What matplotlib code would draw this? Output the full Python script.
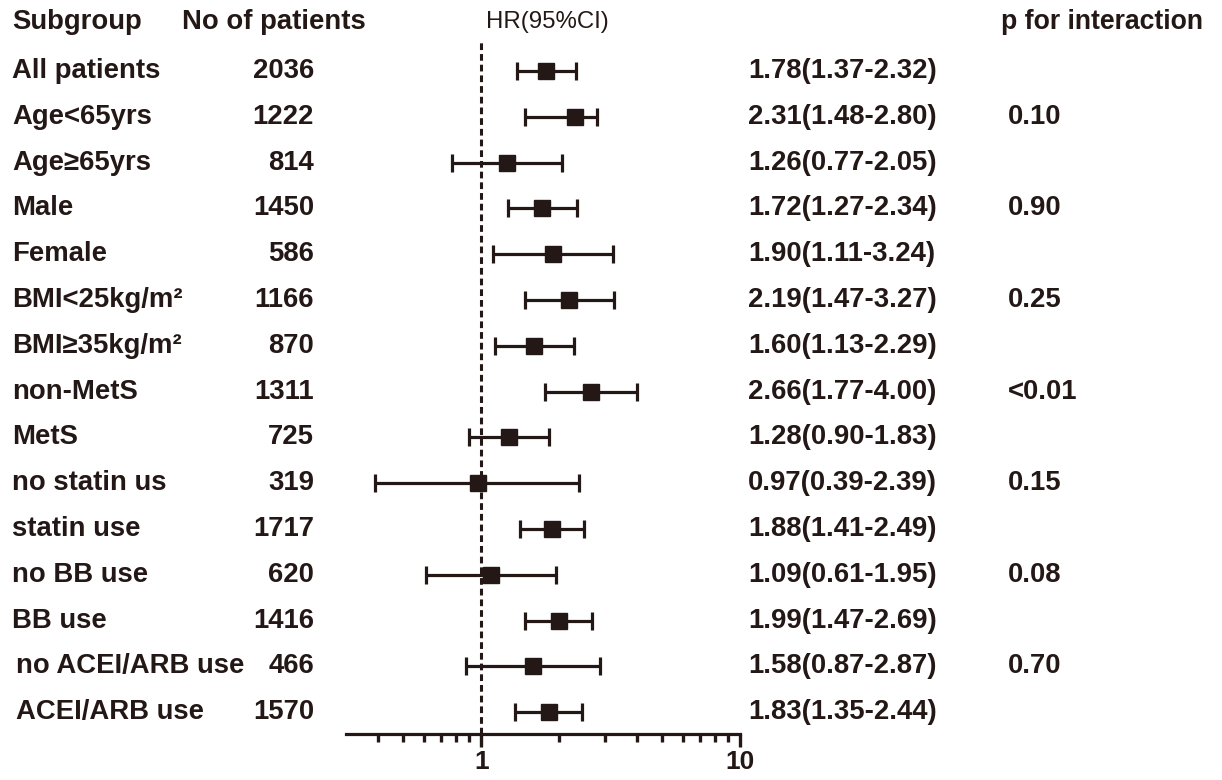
import matplotlib
matplotlib.use("Agg")
import matplotlib.pyplot as plt
from matplotlib.transforms import blended_transform_factory
import numpy as np

subgroups = ["All patients", "Age<65yrs", "Age\u226565yrs", "Male", "Female",
             "BMI<25kg/m\u00b2", "BMI\u226535kg/m\u00b2", "non-MetS", "MetS",
             "no statin us", "statin use", "no BB use", "BB use",
             "no ACEI/ARB use", "ACEI/ARB use"]
n_patients = ["2036", "1222", "814", "1450", "586", "1166", "870", "1311", "725",
              "319", "1717", "620", "1416", "466", "1570"]
hr = [1.78, 2.31, 1.26, 1.72, 1.90, 2.19, 1.60, 2.66, 1.28, 0.97, 1.88, 1.09, 1.99, 1.58, 1.83]
ci_low = [1.37, 1.48, 0.77, 1.27, 1.11, 1.47, 1.13, 1.77, 0.90, 0.39, 1.41, 0.61, 1.47, 0.87, 1.35]
ci_high = [2.32, 2.80, 2.05, 2.34, 3.24, 3.27, 2.29, 4.00, 1.83, 2.39, 2.49, 1.95, 2.69, 2.87, 2.44]
p_interaction = ["", "0.10", "", "0.90", "", "0.25", "", "<0.01", "", "0.15", "", "0.08", "", "0.70", ""]

headers = ["Subgroup", "No of patients", "HR(95%CI)", "p for interaction"]

W, H = 1222, 780
col = "#231815"
fam = ["Liberation Sans", "DejaVu Sans"]
fs = 19.8

fig = plt.figure(figsize=(W / 100, H / 100), dpi=100)
ax = fig.add_axes([346 / W, 1 - 734 / H, (740 - 346) / W, (734 - 40) / H])

rows = np.arange(len(subgroups))
x = np.array(hr)
err = np.array([x - np.array(ci_low), np.array(ci_high) - x])
ax.errorbar(x, rows, xerr=err, fmt="s", color=col, ecolor=col, markersize=11,
            elinewidth=2.3, capsize=6.5, capthick=2.3, zorder=3)
ax.axvline(1, color=col, lw=2.2, ls=(0, (2.2, 1.3)), zorder=2)

ax.set_xscale("log")
ax.set_xlim(0.3, 10)
y0 = (40 - 71) / 45.8
y1 = (734 - 71) / 45.8
ax.set_ylim(y1, y0)

for s in ["top", "right", "left"]:
    ax.spines[s].set_visible(False)
ax.spines["bottom"].set_linewidth(2.3)
ax.spines["bottom"].set_color(col)
ax.set_yticks([])
ax.set_xticks([1, 10])
ax.set_xticklabels(["1", "10"])
ax.set_xticks([0.4, 0.5, 0.6, 0.7, 0.8, 0.9, 2, 3, 4, 5, 6, 7, 8, 9], minor=True)
ax.xaxis.set_minor_formatter(matplotlib.ticker.NullFormatter())
ax.tick_params(axis="x", which="major", direction="out", length=9, width=2.4,
               color=col, pad=2.5, labelsize=19, labelcolor=col)
ax.tick_params(axis="x", which="minor", direction="out", length=5.5, width=2.4, color=col)
for lab in ax.get_xticklabels():
    lab.set_fontweight("bold")
    lab.set_family(fam)
ax.patch.set_visible(False)

tr = blended_transform_factory(fig.transFigure, ax.transData)
sub_x = [12] * len(subgroups)
sub_x[13] = 16
sub_x[14] = 16
for i in rows:
    ax.text(sub_x[i] / W, i, subgroups[i], transform=tr, ha="left", va="center",
            fontsize=fs, fontweight="bold", family=fam, color=col, clip_on=False)
    ax.text(314 / W, i, n_patients[i], transform=tr, ha="right", va="center",
            fontsize=fs, fontweight="bold", family=fam, color=col, clip_on=False)
    ax.text(748 / W, i, f"{hr[i]:.2f}({ci_low[i]:.2f}-{ci_high[i]:.2f})", transform=tr,
            ha="left", va="center", fontsize=fs, fontweight="bold", family=fam,
            color=col, clip_on=False)
    if p_interaction[i]:
        ax.text(1008 / W, i, p_interaction[i], transform=tr, ha="left", va="center",
                fontsize=fs, fontweight="bold", family=fam, color=col, clip_on=False)

hy = 1 - 22 / H
fig.text(12 / W, hy, headers[0], ha="left", va="center", fontsize=fs, fontweight="bold", family=fam, color=col)
fig.text(182 / W, hy, headers[1], ha="left", va="center", fontsize=fs, fontweight="bold", family=fam, color=col)
fig.text(547 / W, hy, headers[2], ha="center", va="center", fontsize=17.3,
         family=fam, color=col)
fig.text(1001 / W, hy, headers[3], ha="left", va="center", fontsize=19.2, fontweight="bold", family=fam, color=col)

fig.savefig("out.png", dpi=100)
